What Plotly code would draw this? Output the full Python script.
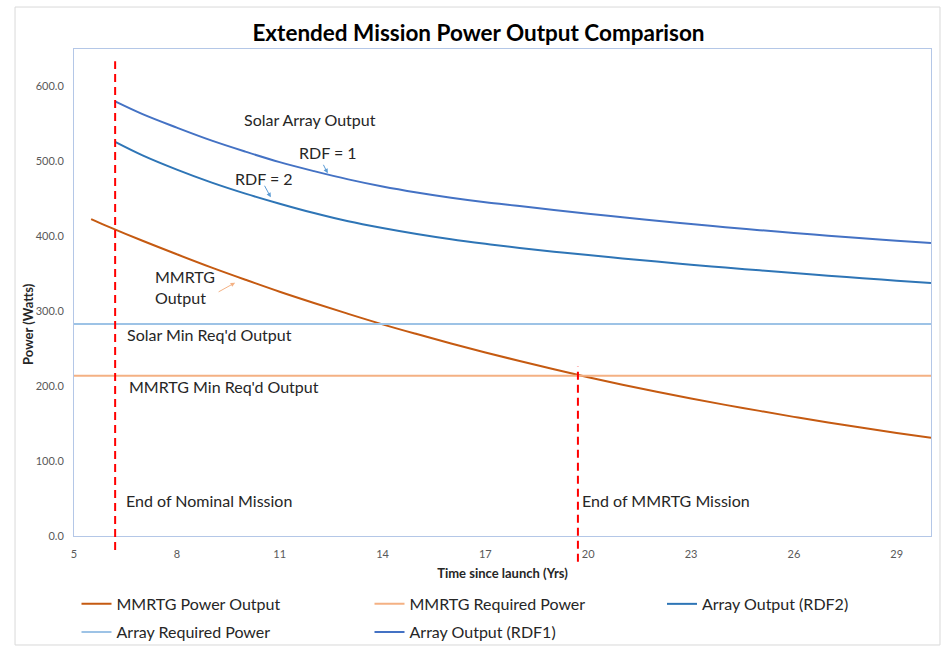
import plotly.graph_objects as go

# ---------------- data ----------------
mmrtg_years = [5.5, 6, 7, 8, 9, 10, 11, 12, 13, 14, 15, 16, 17, 18, 19, 20,
               21, 22, 23, 24, 25, 26, 27, 28, 29, 30]
mmrtg_output = [423, 413, 394, 376, 358.5, 342, 326, 311, 296.5, 282.5, 269.5, 257,
                245, 233.5, 222.5, 212, 202, 192.5, 183.5, 175, 167, 159, 151.5,
                144.5, 137.5, 131]

array_years = [6.2, 7, 8, 9, 10, 11, 12, 13, 14, 15, 16, 17, 18, 19, 20,
               21, 22, 23, 24, 25, 26, 27, 28, 29, 30]
array_rdf1 = [580, 563, 545, 528, 513, 499, 487, 476, 466.5, 458.5, 451.5, 445.5,
              440.5, 435.2, 430.2, 425.4, 420.8, 416.4, 412.2, 408.2, 404.4, 400.8,
              397.4, 394.2, 391.2]
array_rdf2 = [526, 508, 489, 472, 457, 443.5, 431, 420, 411, 403, 396, 390, 384.5,
              379.5, 375, 370.5, 366.3, 362.2, 358.3, 354.6, 351, 347.5, 344.1,
              340.8, 337.6]

req_years = [5, 30]
mmrtg_required = [214, 214]
array_required = [283, 283]

milestone_years = [6.2, 19.7]          # End of nominal mission, end of MMRTG mission

x_ticks = [5, 8, 11, 14, 17, 20, 23, 26, 29]
y_ticks = [0, 100, 200, 300, 400, 500, 600]

FONT = "Lato"
TXT = "#262626"

fig = go.Figure()
fig.add_trace(go.Scatter(x=mmrtg_years, y=mmrtg_output, mode="lines",
                         name="MMRTG Power Output", legend="legend",
                         line=dict(color="#C55A11", width=2, shape="spline")))
fig.add_trace(go.Scatter(x=req_years, y=mmrtg_required, mode="lines",
                         name="MMRTG Required Power", legend="legend",
                         line=dict(color="#F4B183", width=2)))
fig.add_trace(go.Scatter(x=array_years, y=array_rdf2, mode="lines",
                         name="Array Output (RDF2)", legend="legend3",
                         line=dict(color="#2E75B6", width=2, shape="spline")))
fig.add_trace(go.Scatter(x=req_years, y=array_required, mode="lines",
                         name="Array Required Power", legend="legend2",
                         line=dict(color="#9DC3E6", width=2)))
fig.add_trace(go.Scatter(x=array_years, y=array_rdf1, mode="lines",
                         name="Array Output (RDF1)", legend="legend2",
                         line=dict(color="#4472C4", width=2, shape="spline")))

# dashed milestone lines
fig.add_shape(type="line", xref="x", yref="paper", x0=milestone_years[0], x1=milestone_years[0],
              y0=-0.029, y1=0.975, line=dict(color="#FF0000", width=2, dash="8px,5px"))
fig.add_shape(type="line", xref="x", yref="paper", x0=milestone_years[1], x1=milestone_years[1],
              y0=-0.053, y1=0.348, line=dict(color="#FF0000", width=2, dash="8px,5px"))

# outer chart border
fig.add_shape(type="rect", xref="paper", yref="paper", x0=-0.0688, x1=1.0105,
              y0=-0.2238, y1=1.0862, line=dict(color="#D9D9D9", width=1))

ann = [
    dict(x=9.89, y=556, text="Solar Array Output"),
    dict(x=11.5, y=511.6, text="RDF = 1"),
    dict(x=9.64, y=477.8, text="RDF = 2"),
    dict(x=7.3, y=332, text="MMRTG<br>Output"),
    dict(x=6.49, y=269.6, text="Solar Min Req'd Output"),
    dict(x=6.55, y=198.9, text="MMRTG Min Req'd Output"),
    dict(x=6.46, y=48, text="End of Nominal Mission"),
    dict(x=19.76, y=47, text="End of MMRTG Mission"),
]
for a in ann:
    fig.add_annotation(x=a["x"], y=a["y"], text=a["text"], showarrow=False,
                       xanchor="left", yanchor="middle", align="left",
                       font=dict(family=FONT, size=16, color=TXT))

arrows = [
    dict(x=12.40, y=484.1, ax=-5, ay=-10, color="#5B9BD5"),
    dict(x=10.74, y=452.1, ax=-7, ay=-13, color="#5B9BD5"),
    dict(x=9.70, y=338.1, ax=-18, ay=10, color="#F4B183"),
]
for a in arrows:
    fig.add_annotation(x=a["x"], y=a["y"], ax=a["ax"], ay=a["ay"], text="",
                       showarrow=True, arrowhead=2, arrowsize=0.9, arrowwidth=1,
                       arrowcolor=a["color"])

# y axis title as annotation (off-centre in reference)
fig.add_annotation(xref="paper", yref="paper", x=-0.054, y=0.435, text="<b>Power (Watts)</b>",
                   textangle=-90, showarrow=False, xanchor="center", yanchor="middle",
                   font=dict(family=FONT, size=13, color=TXT))

axis_line = "#B4C7E7"
fig.update_xaxes(range=[5, 30], tickvals=x_ticks, ticktext=[str(v) for v in x_ticks],
                 showgrid=False, zeroline=False, showline=True, linecolor=axis_line,
                 linewidth=1, mirror=True, ticks="", ticklabelstandoff=8,
                 automargin=False,
                 tickfont=dict(family=FONT, size=11, color="#595959"),
                 title=dict(text="<b>Time since launch (Yrs)</b>", standoff=9,
                            font=dict(family=FONT, size=13, color=TXT)))
fig.update_yaxes(range=[0, 650], tickvals=y_ticks, ticktext=[f"{v:.1f}" for v in y_ticks],
                 showgrid=False, zeroline=False, showline=True, linecolor=axis_line,
                 linewidth=1, mirror=True, ticks="", ticklabelstandoff=7,
                 automargin=False,
                 tickfont=dict(family=FONT, size=11, color="#595959"))

legend_common = dict(orientation="h", xref="container", yref="container",
                     xanchor="left", yanchor="top", entrywidth=248,
                     entrywidthmode="pixels", traceorder="normal",
                     font=dict(family=FONT, size=16, color=TXT), itemwidth=30,
                     bgcolor="rgba(0,0,0,0)")

fig.update_layout(
    width=941, height=647,
    margin=dict(l=74, r=10, t=49, b=111, autoexpand=False),
    paper_bgcolor="white", plot_bgcolor="white",
    title=dict(text="<b>Extended Mission Power Output Comparison</b>", x=0.5085,
               xanchor="center", y=0.949, yanchor="middle", xref="container", yref="container",
               font=dict(family=FONT, size=22.5, color="#000000")),
    showlegend=True,
    legend=dict(x=0.0813, y=0.0928, **legend_common),
    legend2=dict(x=0.0813, y=0.0494, **legend_common),
    legend3=dict(x=0.7035, y=0.0928, **legend_common),
)

fig.write_html("out.html", config={"displayModeBar": False},
               post_script="document.body.style.margin='0';document.body.style.overflow='hidden';")
